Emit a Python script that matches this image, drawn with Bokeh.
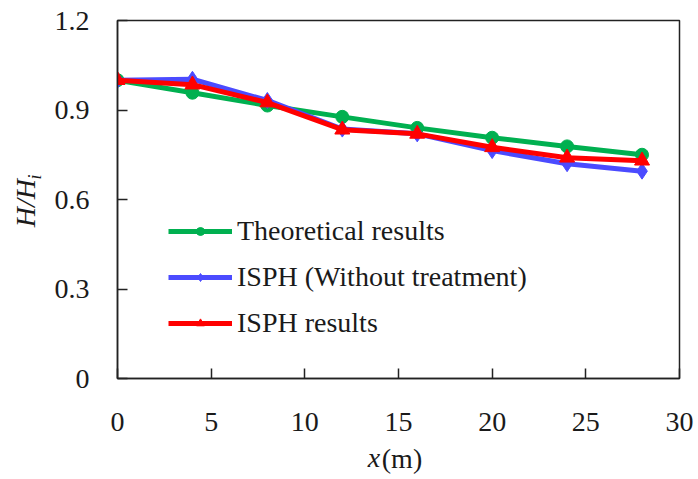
from bokeh.plotting import figure
from bokeh.models import FixedTicker, Legend, LegendItem, LinearAxis
from bokeh.embed import file_html
from bokeh.resources import INLINE

# ---- data ----
x_m = [0, 4, 8, 12, 16, 20, 24, 28]
theoretical = [1.000, 0.958, 0.915, 0.877, 0.840, 0.807, 0.778, 0.750]
isph_without = [1.000, 1.003, 0.932, 0.836, 0.820, 0.764, 0.720, 0.695]
isph_results = [1.000, 0.985, 0.925, 0.834, 0.820, 0.775, 0.740, 0.730]

x_ticks = [0, 5, 10, 15, 20, 25, 30]
y_ticks = [0, 0.3, 0.6, 0.9, 1.2]
y_tick_labels = ["0", "0.3", "0.6", "0.9", "1.2"]

names = ["Theoretical results", "ISPH (Without treatment)", "ISPH results"]

FONT = "Liberation Serif"
FS = "28px"
NB = "\u00a0"
DARK = "#1a1a1a"

p = figure(width=698, height=479, x_range=(0, 30), y_range=(0, 1.2),
           output_backend="svg", toolbar_location=None,
           min_border_left=117, min_border_right=19, min_border_top=20,
           min_border_bottom=101)
p.xgrid.visible = False
p.ygrid.visible = False
p.outline_line_color = "#222222"
p.outline_line_width = 1.5
p.background_fill_color = "white"
p.border_fill_color = "white"

for ax in (p.xaxis[0], p.yaxis[0]):
    ax.major_tick_in = 10
    ax.major_tick_out = 0
    ax.minor_tick_line_color = None
    ax.axis_line_color = "#222222"
    ax.axis_line_width = 1.5
    ax.major_tick_line_color = "#222222"
    ax.major_tick_line_width = 1.5
    ax.major_label_text_font = FONT
    ax.major_label_text_font_size = FS
    ax.major_label_text_color = DARK
    ax.axis_label_text_font = FONT
    ax.axis_label_text_color = DARK
    ax.axis_label_text_font_style = "italic"

p.xaxis.ticker = FixedTicker(ticks=x_ticks)
p.yaxis.ticker = FixedTicker(ticks=y_ticks)
p.yaxis.major_label_overrides = {t: l for t, l in zip(y_ticks, y_tick_labels)}
p.xaxis.major_label_standoff = 34
p.yaxis.major_label_standoff = 28

# x title: italic "x" on the main axis, upright "(m)" on a bare helper axis
p.xaxis.axis_label = "x" + NB * 7
p.xaxis.axis_label_text_font_size = FS
p.xaxis.axis_label_standoff = 8

# y title: subscript "i" on the main axis, italic "H/H" on a bare helper axis
p.yaxis.axis_label = NB * 10 + "i"
p.yaxis.axis_label_text_font_size = "18px"
p.yaxis.axis_label_standoff = 7

def bare_axis(label, size, style, standoff):
    a = LinearAxis(ticker=FixedTicker(ticks=[]), axis_label=label,
                   axis_line_color=None, major_tick_line_color=None,
                   minor_tick_line_color=None, major_tick_in=0, major_tick_out=0,
                   minor_tick_in=0, minor_tick_out=0,
                   axis_label_text_font=FONT, axis_label_text_font_size=size,
                   axis_label_text_font_style=style, axis_label_text_color=DARK,
                   axis_label_standoff=standoff)
    return a

p.add_layout(bare_axis(NB + "(m)", FS, "normal", -33), "below")
p.add_layout(bare_axis("H/H" + NB, FS, "italic", -19), "left")

lw = 5
g_line = p.line(x_m, theoretical, line_color="#00B050", line_width=lw, line_join="round")
g_pts = p.scatter(x_m, theoretical, marker="circle", size=13, fill_color="#00B050", line_color="#00B050")
b_line = p.line(x_m, isph_without, line_color="#4B4BFF", line_width=lw, line_join="round")
b_pts = p.scatter(x_m, isph_without, marker="diamond", size=16, fill_color="#4B4BFF", line_color="#4B4BFF")
r_line = p.line(x_m, isph_results, line_color="#FF0000", line_width=lw, line_join="round")
r_pts = p.scatter(x_m, isph_results, marker="triangle", size=15, fill_color="#FF0000", line_color="#FF0000")

legend = Legend(items=[
    LegendItem(label=names[0], renderers=[g_line, g_pts]),
    LegendItem(label=names[1], renderers=[b_line, b_pts]),
    LegendItem(label=names[2], renderers=[r_line, r_pts]),
], location=(51, 32), border_line_color=None, background_fill_alpha=0,
    padding=0, margin=0, spacing=0, glyph_width=64, glyph_height=20,
    label_height=46, label_standoff=5, label_text_font=FONT,
    label_text_font_size=FS, label_text_color=DARK)
p.add_layout(legend)

open("out.html", "w").write(file_html(p, INLINE))
